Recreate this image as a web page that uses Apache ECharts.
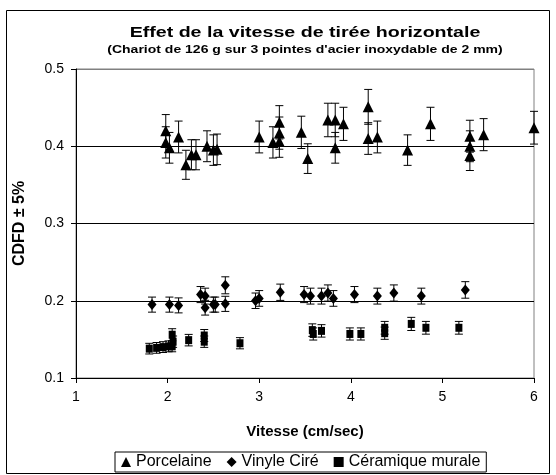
<!DOCTYPE html>
<html>
<head>
<meta charset="utf-8">
<script src="https://cdn.jsdelivr.net/npm/echarts@6/dist/echarts.min.js"></script>
<style>
  html, body { margin: 0; padding: 0; background: #fff; }
  #chart { width: 556px; height: 475px; }
</style>
</head>
<body>
<div id="chart"></div>
<script>
var porcX = [1.98, 1.98, 2.02, 2.12, 2.20, 2.26, 2.31, 2.43, 2.50, 2.54, 3.00, 3.15, 3.22, 3.22, 3.22, 3.46, 3.53, 3.75, 3.83, 3.83, 3.92, 4.19, 4.19, 4.29, 4.62, 4.87, 5.30, 5.30, 5.30, 5.45, 6.00];
var porcY = [0.420, 0.405, 0.398, 0.412, 0.376, 0.389, 0.389, 0.400, 0.395, 0.396, 0.412, 0.405, 0.431, 0.417, 0.406, 0.418, 0.384, 0.434, 0.434, 0.398, 0.429, 0.451, 0.410, 0.412, 0.395, 0.429, 0.413, 0.400, 0.388, 0.415, 0.424];

var vinylX = [1.83, 2.02, 2.12, 2.36, 2.41, 2.41, 2.50, 2.52, 2.63, 2.63, 2.96, 3.00, 3.23, 3.49, 3.56, 3.68, 3.75, 3.81, 4.04, 4.29, 4.47, 4.77, 5.25];
var vinylY = [0.195, 0.195, 0.194, 0.208, 0.206, 0.191, 0.195, 0.195, 0.220, 0.196, 0.200, 0.203, 0.211, 0.208, 0.206, 0.206, 0.210, 0.203, 0.208, 0.206, 0.210, 0.206, 0.214];

var ceramX = [1.80, 1.88, 1.95, 2.01, 2.05, 2.06, 2.05, 2.23, 2.40, 2.40, 2.79, 3.58, 3.59, 3.68, 3.99, 4.11, 4.37, 4.37, 4.66, 4.82, 5.18];
var ceramY = [0.138, 0.139, 0.140, 0.141, 0.141, 0.147, 0.156, 0.149, 0.155, 0.147, 0.145, 0.162, 0.157, 0.161, 0.157, 0.157, 0.165, 0.158, 0.170, 0.165, 0.165];

var xTicks = [1, 6, 1];      // min, max, interval
var yTicks = [0.1, 0.5, 0.1];
var errPct = 0.05;

function pts(xs, ys) {
    return xs.map(function (x, i) { return [x, ys[i]]; });
}
function bars(xs, ys) {
    return xs.map(function (x, i) { return [x, ys[i] * (1 - errPct), ys[i] * (1 + errPct)]; });
}
function renderErr(params, api) {
    var lo = api.coord([api.value(0), api.value(1)]);
    var hi = api.coord([api.value(0), api.value(2)]);
    var w = 4;
    var st = { stroke: '#000', lineWidth: 1 };
    return {
        type: 'group',
        children: [
            { type: 'line', shape: { x1: lo[0], y1: lo[1], x2: hi[0], y2: hi[1] }, style: st },
            { type: 'line', shape: { x1: lo[0] - w, y1: lo[1], x2: lo[0] + w, y2: lo[1] }, style: st },
            { type: 'line', shape: { x1: hi[0] - w, y1: hi[1], x2: hi[0] + w, y2: hi[1] }, style: st }
        ]
    };
}

var font = 'Liberation Sans, Arial, sans-serif';
var myChart = echarts.init(document.getElementById('chart'));
var option = {
    animation: false,
    color: ['#000'],
    textStyle: { fontFamily: font, color: '#000' },
    // titres : texte étiré horizontalement comme dans l'original
    graphic: [
        {
            type: 'rect',
            shape: { x: 6.5, y: 10.5, width: 543, height: 463 },
            style: { fill: 'none', stroke: '#000', lineWidth: 1 },
            silent: true
        },
        {
            type: 'text', x: 305, y: 33, scaleX: 1.4,
            style: { text: 'Effet de la vitesse de tirée horizontale', font: 'bold 14px ' + font, fill: '#000', align: 'center', verticalAlign: 'middle' }
        },
        {
            type: 'text', x: 305, y: 50, scaleX: 1.4,
            style: { text: "(Chariot de 126 g sur 3 pointes d'acier inoxydable de 2 mm)", font: 'bold 10px ' + font, fill: '#000', align: 'center', verticalAlign: 'middle' }
        }
    ],
    legend: {
        left: 115,
        top: 452,
        itemWidth: 10,
        itemHeight: 10,
        itemGap: 15,
        padding: [2, 6],
        borderColor: '#000',
        borderWidth: 1,
        textStyle: { fontFamily: font, fontSize: 16, color: '#000' },
        data: [
            { name: 'Porcelaine', icon: 'triangle' },
            { name: 'Vinyle Ciré', icon: 'diamond' },
            { name: 'Céramique murale', icon: 'rect' }
        ]
    },
    grid: {
        left: 76,
        right: 22,
        top: 69,
        bottom: 97,
        show: true,
        borderColor: '#808080',
        borderWidth: 1
    },
    xAxis: {
        type: 'value',
        min: xTicks[0],
        max: xTicks[1],
        interval: xTicks[2],
        name: 'Vitesse (cm/sec)',
        nameLocation: 'middle',
        nameGap: 46,
        nameTextStyle: { fontFamily: font, fontSize: 15, fontWeight: 'bold', color: '#000' },
        axisLine: { lineStyle: { color: '#000', width: 1 } },
        axisTick: { length: 5, lineStyle: { color: '#000' } },
        axisLabel: { fontFamily: font, fontSize: 14, color: '#000', margin: 12 },
        splitLine: { show: false }
    },
    yAxis: {
        type: 'value',
        min: yTicks[0],
        max: yTicks[1],
        interval: yTicks[2],
        name: 'CDFD ± 5%',
        nameLocation: 'middle',
        nameGap: 48,
        nameTextStyle: { fontFamily: font, fontSize: 16, fontWeight: 'bold', color: '#000' },
        axisLine: { show: true, lineStyle: { color: '#000', width: 1 } },
        axisTick: { show: true, length: 5, lineStyle: { color: '#000' } },
        axisLabel: { fontFamily: font, fontSize: 14, color: '#000', margin: 12, formatter: function (v) { return v.toFixed(1); } },
        splitLine: { show: true, lineStyle: { color: ['#000', '#000', '#000', '#000', '#808080'], width: 1 } }
    },
    series: [
        { type: 'custom', name: 'Porcelaine', renderItem: renderErr, data: bars(porcX, porcY), z: 2, encode: { x: 0, y: [1, 2] } },
        { type: 'custom', name: 'Vinyle Ciré', renderItem: renderErr, data: bars(vinylX, vinylY), z: 2, encode: { x: 0, y: [1, 2] } },
        { type: 'custom', name: 'Céramique murale', renderItem: renderErr, data: bars(ceramX, ceramY), z: 2, encode: { x: 0, y: [1, 2] } },
        { type: 'scatter', name: 'Porcelaine', symbol: 'triangle', symbolSize: [11, 11], itemStyle: { color: '#000', opacity: 1 }, data: pts(porcX, porcY), z: 3 },
        { type: 'scatter', name: 'Vinyle Ciré', symbol: 'diamond', symbolSize: [9, 11], itemStyle: { color: '#000', opacity: 1 }, data: pts(vinylX, vinylY), z: 3 },
        { type: 'scatter', name: 'Céramique murale', symbol: 'rect', symbolSize: [7, 8], itemStyle: { color: '#000', opacity: 1 }, data: pts(ceramX, ceramY), z: 3 }
    ]
};
myChart.setOption(option);
</script>
</body>
</html>
